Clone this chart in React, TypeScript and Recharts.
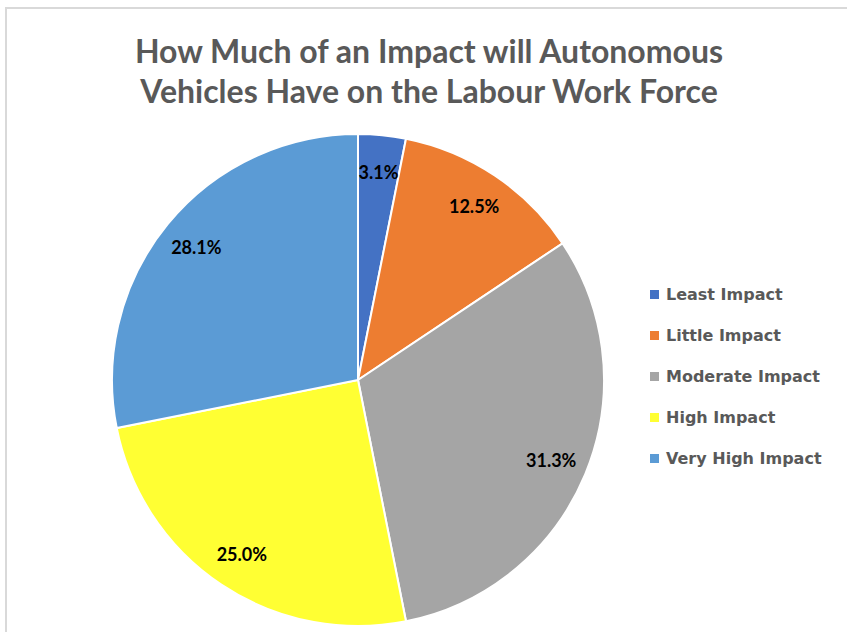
import { PieChart, Pie, Cell } from 'recharts';

const CATEGORIES = ['Least Impact', 'Little Impact', 'Moderate Impact', 'High Impact', 'Very High Impact'];
const RESPONSES = [1, 4, 10, 8, 9];
const PERCENT_LABELS = ['3.1%', '12.5%', '31.3%', '25.0%', '28.1%'];
const COLORS = ['#4472c4', '#ed7d31', '#a5a5a5', '#ffff33', '#5b9bd5'];

const data = CATEGORIES.map((name, i) => ({ name, value: RESPONSES[i] }));

const RAD = Math.PI / 180;

const renderLabel = (props: any) => {
  const { cx, cy, midAngle, outerRadius, index } = props;
  const r = outerRadius * 0.85;
  const x = cx + r * Math.cos(-midAngle * RAD);
  const y = cy + r * Math.sin(-midAngle * RAD);
  return (
    <text
      x={x}
      y={y}
      textAnchor='middle'
      dominantBaseline='central'
      fill='#000'
      style={{ fontFamily: 'Lato, sans-serif', fontWeight: 700, fontSize: 18 }}
    >
      {PERCENT_LABELS[index]}
    </text>
  );
};

export default function App() {
  return (
    <div style={{ position: 'absolute', left: 0, top: 0, width: 847, height: 632, background: '#fff', overflow: 'hidden' }}>
      <div
        style={{
          position: 'absolute', left: 5, top: 7, width: 900, height: 700,
          borderTop: '2px solid #d9d9d9', borderLeft: '2px solid #d9d9d9',
        }}
      />
      <div
        style={{
          position: 'absolute', left: 0, top: 31, width: 858, textAlign: 'center',
          fontFamily: 'Lato, sans-serif', fontWeight: 700, fontSize: 32, lineHeight: '40px', color: '#595959',
        }}
      >
        How Much of an Impact will Autonomous
        <br />
        Vehicles Have on the Labour Work Force
      </div>
      <div style={{ position: 'absolute', left: 0, top: 0 }}>
        <PieChart width={847} height={632} margin={{ top: 0, right: 0, bottom: 0, left: 0 }}>
          <Pie
            data={data}
            dataKey='value'
            nameKey='name'
            cx={358}
            cy={380}
            outerRadius={246}
            startAngle={90}
            endAngle={-270}
            stroke='#fff'
            strokeWidth={2}
            label={renderLabel}
            labelLine={false}
            isAnimationActive={false}
          >
            {data.map((_, i) => (
              <Cell key={i} fill={COLORS[i]} />
            ))}
          </Pie>
        </PieChart>
      </div>
      <div
        style={{
          position: 'absolute', left: 650, top: 274,
          fontFamily: '"DejaVu Sans", sans-serif', fontWeight: 700, fontSize: 16, color: '#595959',
        }}
      >
        {CATEGORIES.map((c, i) => (
          <div key={c} style={{ display: 'flex', alignItems: 'center', height: 41 }}>
            <span style={{ width: 9, height: 9, background: COLORS[i], marginRight: 7, display: 'inline-block' }} />
            <span>{c}</span>
          </div>
        ))}
      </div>
    </div>
  );
}
